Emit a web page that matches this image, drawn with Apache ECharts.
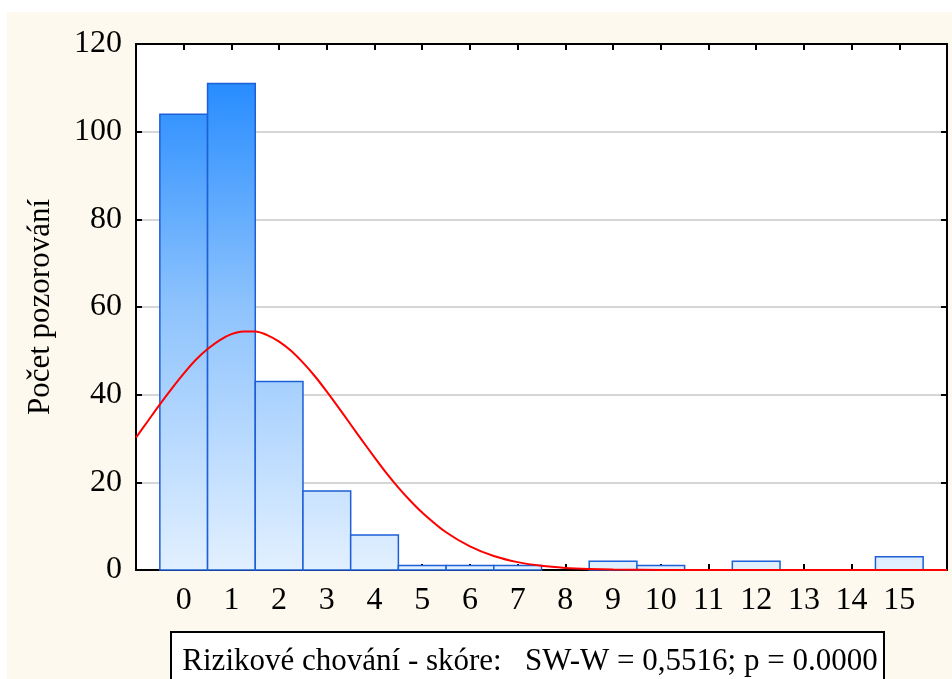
<!DOCTYPE html>
<html>
<head>
<meta charset="utf-8">
<script src="https://cdn.jsdelivr.net/npm/echarts@6/dist/echarts.min.js"></script>
<style>
    html, body { margin: 0; padding: 0; background: #fff; }
    #container { width: 952px; height: 679px; }
</style>
</head>
<body>
<div id="container"></div>
<script>
// histogram classes and counts
const scores = [0, 1, 2, 3, 4, 5, 6, 7, 8, 9, 10, 11, 12, 13, 14, 15];
const counts = [104, 111, 43, 18, 8, 1, 1, 1, 0, 2, 1, 0, 2, 0, 0, 3];

// fitted normal curve
const curveX = [-1, -0.75, -0.5, -0.25, 0, 0.25, 0.5, 0.75, 1, 1.25, 1.5, 1.75, 2, 2.25, 2.5, 2.75,
    3, 3.25, 3.5, 3.75, 4, 4.25, 4.5, 4.75, 5, 5.5, 6, 6.5, 7, 7.5, 8, 8.5, 9, 10, 11, 12, 13, 14, 15, 16];
const curveY = [30.2, 34.0, 37.8, 41.4, 44.8, 47.9, 50.4, 52.4, 53.8, 54.4, 54.4, 53.6, 52.1, 50.0, 47.3, 44.2,
    40.7, 37.0, 33.2, 29.4, 25.7, 22.1, 18.8, 15.8, 13.1, 8.6, 5.4, 3.2, 1.8, 0.95, 0.48, 0.23, 0.1, 0.02, 0, 0, 0, 0, 0, 0];

const yTicks = [0, 20, 40, 60, 80, 100, 120];
const xLabel = 'Rizikové chování - skóre:   SW-W = 0,5516; p = 0.0000';
const yLabel = 'Počet pozorování';

const FONT = '"Liberation Serif", "DejaVu Serif", serif';
const FS = 32;
const dom = document.getElementById('container');
const myChart = echarts.init(dom);

const barFill = {
    type: 'linear', x: 0, y: 44, x2: 0, y2: 570, global: true,
    colorStops: [
        {offset: 0, color: '#1683ff'},
        {offset: 0.5, color: '#8ec3fd'},
        {offset: 1, color: '#e2f0ff'}
    ]
};

const axisCommon = {
    axisLine: {show: true, onZero: false, lineStyle: {color: '#000', width: 2}},
    axisTick: {show: true, inside: true, length: 6, lineStyle: {color: '#000', width: 2}},
    splitLine: {show: false}
};

const option = {
    backgroundColor: '#fff',
    animation: false,
    grid: {
        left: 136, top: 44, right: 5, bottom: 109,
        show: true, backgroundColor: '#fff', borderWidth: 0
    },
    xAxis: [
        Object.assign({
            type: 'value', min: -1, max: 16, interval: 1, position: 'bottom',
            axisLabel: {
                color: '#000', fontFamily: FONT, fontSize: FS, margin: 15,
                formatter: v => (v < 0 || v > 15) ? '' : String(v)
            }
        }, axisCommon),
        Object.assign({
            type: 'value', min: -1, max: 16, interval: 1, position: 'top',
            axisLabel: {show: false}
        }, axisCommon)
    ],
    yAxis: [
        Object.assign({}, axisCommon, {
            type: 'value', min: yTicks[0], max: yTicks[yTicks.length - 1], interval: 20,
            position: 'left',
            name: yLabel, nameLocation: 'middle', nameGap: 80,
            nameTextStyle: {color: '#000', fontFamily: FONT, fontSize: 31},
            axisLabel: {color: '#000', fontFamily: FONT, fontSize: FS, margin: 14},
            splitLine: {show: true, lineStyle: {color: '#d6d6d6', width: 2}}
        }),
        Object.assign({
            type: 'value', min: 0, max: 120, interval: 20, position: 'right',
            axisLabel: {show: false}
        }, axisCommon)
    ],
    graphic: [
        {
            type: 'rect', z: -10, silent: true,
            shape: {x: 7, y: 12, width: 945, height: 667},
            style: {fill: '#fdf9ee'}
        },
        {
            type: 'rect', z: 10,
            shape: {x: 171, y: 632, width: 713, height: 60},
            style: {fill: '#fff', stroke: '#000', lineWidth: 2}
        },
        {
            type: 'text', z: 11, x: 530, y: 662,
            style: {
                text: xLabel, fill: '#000', font: '31px ' + FONT,
                textAlign: 'center', textVerticalAlign: 'middle'
            }
        }
    ],
    series: [
        {
            type: 'custom',
            xAxisIndex: 0, yAxisIndex: 0,
            data: scores.map((s, i) => [s, counts[i]]),
            renderItem: function (params, api) {
                const x = api.value(0);
                const y = api.value(1);
                if (!y) return null;
                const p1 = api.coord([x - 0.5, y]);
                const p2 = api.coord([x + 0.5, 0]);
                return {
                    type: 'rect',
                    shape: {x: p1[0], y: p1[1], width: p2[0] - p1[0], height: p2[1] - p1[1]},
                    style: {fill: barFill, stroke: '#1d5fd6', lineWidth: 1.5}
                };
            }
        },
        {
            type: 'line',
            xAxisIndex: 0, yAxisIndex: 0,
            data: curveX.map((x, i) => [x, curveY[i]]),
            smooth: 0.3,
            symbol: 'none',
            lineStyle: {color: '#ff0000', width: 2},
            z: 5
        }
    ]
};

myChart.setOption(option);
</script>
</body>
</html>
